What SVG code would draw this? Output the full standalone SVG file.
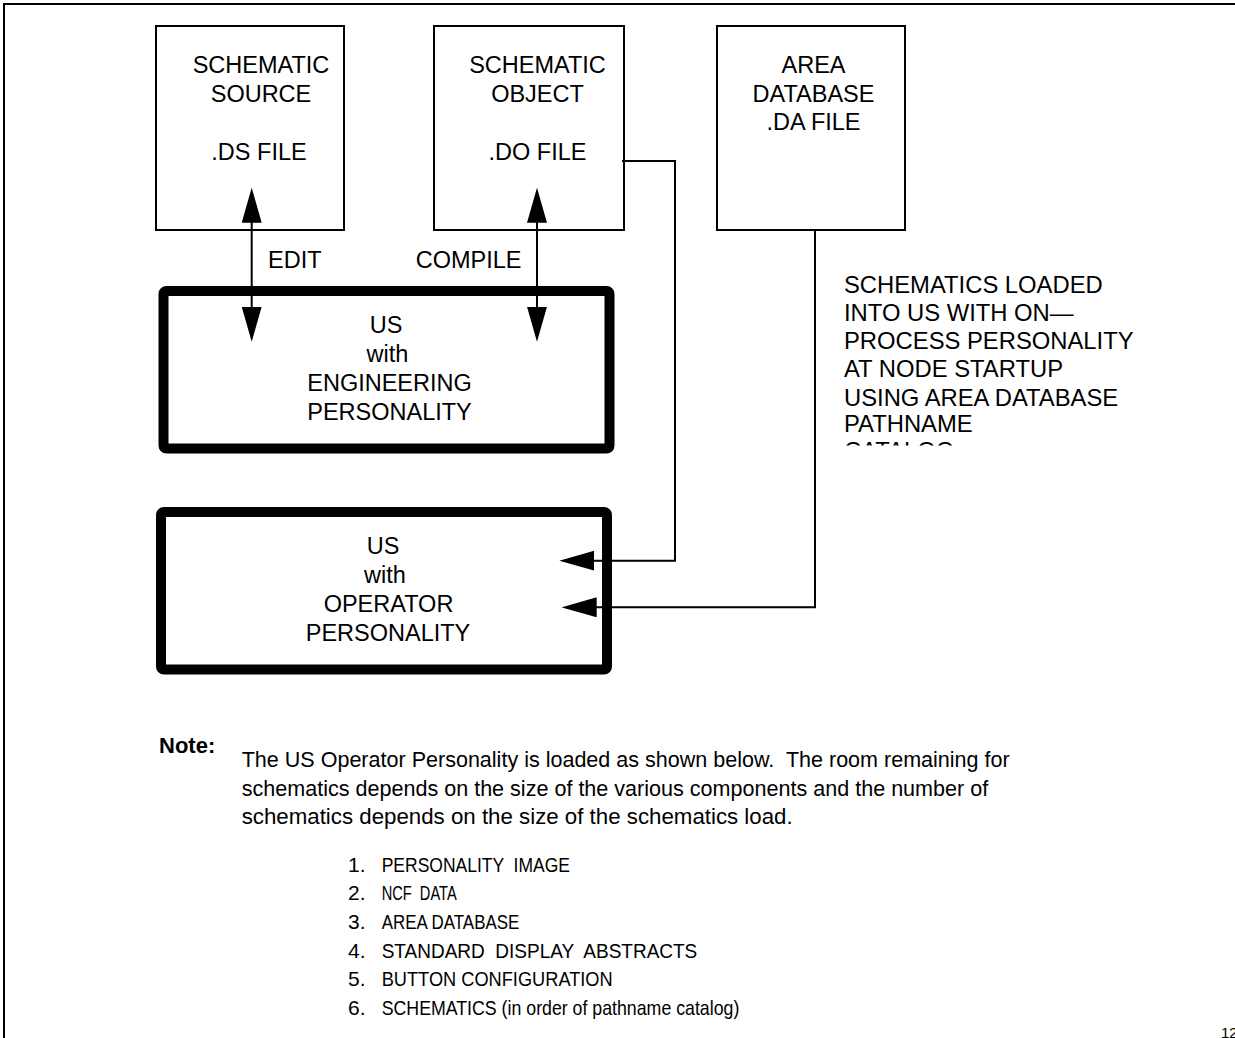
<svg xmlns="http://www.w3.org/2000/svg" width="1235" height="1038" viewBox="0 0 1235 1038" xml:space="preserve">
  <style>
    text { font-family: "Liberation Sans", Arial, Helvetica, sans-serif; fill: #000; white-space: pre; }
    .lbl { font-size: 23.5px; }
    .side { font-size: 23.8px; }
    .para { font-size: 22px; }
    .list { font-size: 21px; }
    .note { font-size: 22px; font-weight: bold; }
    .file { fill: #fff; stroke: #000; stroke-width: 2; }
    .us { fill: #fff; stroke: #000; stroke-width: 10; }
    .wire { fill: none; stroke: #000; stroke-width: 2; }
    .frame { fill: none; stroke: #000; stroke-width: 2; }
  </style>
  <defs>
    <marker id="head" markerUnits="userSpaceOnUse" markerWidth="35" markerHeight="20" refX="30" refY="10" orient="auto-start-reverse">
      <path d="M0,0 L35,10 L0,20 z" fill="#000"/>
    </marker>
    <clipPath id="sideClip">
      <rect x="830" y="260" width="400" height="185.5"/>
    </clipPath>
  </defs>

  <rect width="1235" height="1038" fill="#fff"/>

  <!-- page frame -->
  <path class="frame" d="M4,1038 V4 H1235"/>

  <!-- file boxes -->
  <g id="source-file">
    <rect class="file" x="156" y="26" width="188" height="204"/>
    <text class="lbl" x="261" y="73" text-anchor="middle">SCHEMATIC</text>
    <text class="lbl" x="261" y="102" text-anchor="middle">SOURCE</text>
    <text class="lbl" x="259" y="160" text-anchor="middle">.DS FILE</text>
  </g>

  <g id="object-file">
    <rect class="file" x="434" y="26" width="190" height="204"/>
    <text class="lbl" x="537.5" y="73" text-anchor="middle">SCHEMATIC</text>
    <text class="lbl" x="537.5" y="102" text-anchor="middle">OBJECT</text>
    <text class="lbl" x="537.5" y="160" text-anchor="middle">.DO FILE</text>
  </g>

  <g id="area-file">
    <rect class="file" x="717" y="26" width="188" height="204"/>
    <text class="lbl" x="813.5" y="73" text-anchor="middle">AREA</text>
    <text class="lbl" x="813.5" y="102" text-anchor="middle">DATABASE</text>
    <text class="lbl" x="813.5" y="130" text-anchor="middle">.DA FILE</text>
  </g>

  <!-- US personality boxes -->
  <g id="us-engineering">
    <rect class="us" x="163.5" y="291" width="446" height="157.5" rx="3"/>
    <text class="lbl" x="386" y="333" text-anchor="middle">US</text>
    <text class="lbl" x="387.5" y="362" text-anchor="middle">with</text>
    <text class="lbl" x="389.5" y="391" text-anchor="middle">ENGINEERING</text>
    <text class="lbl" x="389.5" y="419.5" text-anchor="middle">PERSONALITY</text>
  </g>

  <g id="us-operator">
    <rect class="us" x="161" y="512" width="446" height="157.5" rx="3"/>
    <text class="lbl" x="383" y="554" text-anchor="middle">US</text>
    <text class="lbl" x="385" y="583" text-anchor="middle">with</text>
    <text class="lbl" x="388.5" y="611.5" text-anchor="middle">OPERATOR</text>
    <text class="lbl" x="388" y="640.5" text-anchor="middle">PERSONALITY</text>
  </g>

  <!-- connectors -->
  <g id="connectors">
    <line class="wire" x1="251.7" y1="192.7" x2="251.7" y2="336.7" marker-start="url(#head)" marker-end="url(#head)"/>
    <line class="wire" x1="537" y1="192.7" x2="537" y2="336.7" marker-start="url(#head)" marker-end="url(#head)"/>
    <path class="wire" d="M622,161 H675 V560.7 H564.3" marker-end="url(#head)"/>
    <path class="wire" d="M815,230 V607.3 H566.7" marker-end="url(#head)"/>
    <text class="lbl" x="268" y="268">EDIT</text>
    <text class="lbl" x="521.5" y="268" text-anchor="end">COMPILE</text>
  </g>

  <!-- loading note beside the operator path -->
  <g id="load-note">
    <text class="side" x="844" y="292.7">SCHEMATICS LOADED</text>
    <text class="side" x="844" y="320.7">INTO US WITH ON—</text>
    <text class="side" x="844" y="349.3">PROCESS PERSONALITY</text>
    <text class="side" x="844" y="377.3">AT NODE STARTUP</text>
    <text class="side" x="844" y="406">USING AREA DATABASE</text>
    <text class="side" x="844" y="432.3">PATHNAME</text>
    <text class="side" x="844" y="459" clip-path="url(#sideClip)">CATALOG</text>
  </g>

  <!-- footnote -->
  <g id="footnote">
    <text class="note" x="159" y="752.7">Note:</text>
    <text class="para" x="241.7" y="767" textLength="768" lengthAdjust="spacingAndGlyphs">The US Operator Personality is loaded as shown below.  The room remaining for</text>
    <text class="para" x="241.7" y="795.5" textLength="746.5" lengthAdjust="spacingAndGlyphs">schematics depends on the size of the various components and the number of</text>
    <text class="para" x="241.7" y="824" textLength="551" lengthAdjust="spacingAndGlyphs">schematics depends on the size of the schematics load.</text>
  </g>

  <g id="load-order">
    <text class="list" x="348" y="871.7">1.</text>
    <text class="list" x="381.7" y="871.7" textLength="188.3" lengthAdjust="spacingAndGlyphs">PERSONALITY  IMAGE</text>
    <text class="list" x="348" y="900.3">2.</text>
    <text class="list" x="381.7" y="900.3" textLength="75" lengthAdjust="spacingAndGlyphs">NCF  DATA</text>
    <text class="list" x="348" y="929">3.</text>
    <text class="list" x="381.7" y="929" textLength="137.6" lengthAdjust="spacingAndGlyphs">AREA DATABASE</text>
    <text class="list" x="348" y="957.7">4.</text>
    <text class="list" x="381.7" y="957.7" textLength="315.6" lengthAdjust="spacingAndGlyphs">STANDARD  DISPLAY  ABSTRACTS</text>
    <text class="list" x="348" y="986.3">5.</text>
    <text class="list" x="381.7" y="986.3" textLength="231" lengthAdjust="spacingAndGlyphs">BUTTON CONFIGURATION</text>
    <text class="list" x="348" y="1015">6.</text>
    <text class="list" x="381.7" y="1015" textLength="357.6" lengthAdjust="spacingAndGlyphs">SCHEMATICS (in order of pathname catalog)</text>
  </g>

  <!-- page number -->
  <text x="1221" y="1038" font-size="15">12</text>
</svg>
